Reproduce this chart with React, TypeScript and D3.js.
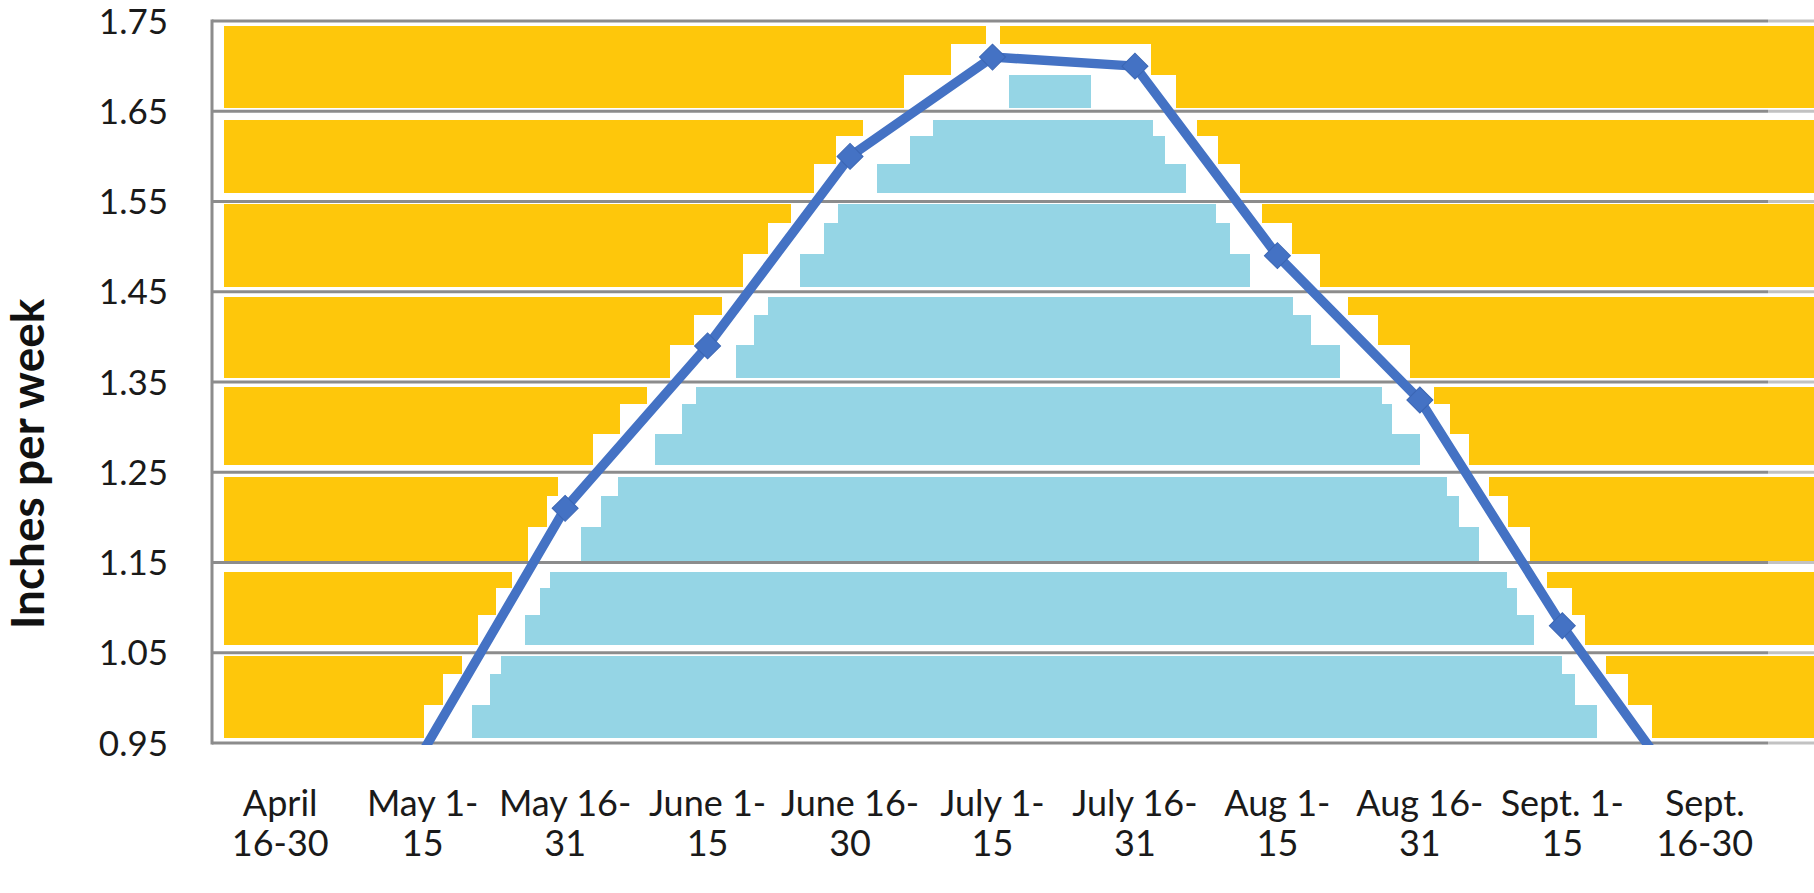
import React, { useMemo } from "react";
import * as d3 from "d3";

// Half-month periods, written on two lines under the axis
const periodTop = ["April", "May 1-", "May 16-", "June 1-", "June 16-", "July 1-", "July 16-", "Aug 1-", "Aug 16-", "Sept. 1-", "Sept."];
const periodBottom = ["16-30", "15", "31", "15", "30", "15", "31", "15", "31", "15", "16-30"];

// Water use, inches per week (null = no value for that period)
const inchesPerWeek: (number | null)[] = [null, 0.94, 1.21, 1.39, 1.6, 1.71, 1.7, 1.49, 1.33, 1.08, 0.86];

const yTickValues = [0.95, 1.05, 1.15, 1.25, 1.35, 1.45, 1.55, 1.65, 1.75];

const W = 1814;
const H = 893;

const YELLOW = "#FEC70B";
const BLUE = "#95D5E5";
const LINE = "#4472C4";
const GRID = "#8C8C8C";
const FONT = "Lato, 'Open Sans', sans-serif";

// Insets (top, bottom) of each horizontal fill strip, from the top band down
const stripInsets = [[5, 3], [9, 8], [3, 5], [5, 4], [5, 7], [5, 2], [9, 8], [3, 5]];
// Each strip is split into stepped rows
const rowSplits = [0, 0.22, 0.6, 1];

const STROKE = 9.5;
const MARK_R = 13;

export default function App() {
  const x = d3.scaleBand<number>().domain(d3.range(periodTop.length)).range([209, 1776]);
  const y = d3.scaleLinear().domain([0.95, 1.75]).range([743, 21]);
  const cx = (i: number) => (x(i) as number) + x.bandwidth() / 2;

  const pts: [number, number][] = inchesPerWeek
    .map((v, i) => (v == null ? null : ([cx(i), y(v)] as [number, number])))
    .filter((p): p is [number, number] => p !== null);

  const markers = inchesPerWeek
    .map((v, i) => ({ v, i }))
    .filter((d) => d.v != null && (d.v as number) >= y.domain()[0])
    .map((d) => [cx(d.i), y(d.v as number)] as [number, number]);

  const fills = useMemo(() => {
    const lineYAt = (px: number): number | null => {
      for (let k = 0; k < pts.length - 1; k++) {
        const [x0, y0] = pts[k];
        const [x1, y1] = pts[k + 1];
        if (px >= x0 && px <= x1) return y0 + ((px - x0) / (x1 - x0)) * (y1 - y0);
      }
      return null;
    };
    const topEnv = new Float64Array(W + 1);
    const botEnv = new Float64Array(W + 1);
    for (let px = 0; px <= W; px++) {
      const ly = lineYAt(px);
      topEnv[px] = ly == null ? Infinity : ly - STROKE / 2;
      botEnv[px] = ly == null ? Infinity : ly + STROKE / 2;
      for (const [mx, my] of markers) {
        const d = Math.abs(px - mx);
        if (d < MARK_R) {
          topEnv[px] = Math.min(topEnv[px], my - (MARK_R - d));
          botEnv[px] = Math.max(botEnv[px], my + (MARK_R - d));
        }
      }
    }
    const mvY = 6, mhY = 1, mvB = 6, mhB = 15;
    const x0 = 224, x1 = W;
    const rects: { x: number; y: number; w: number; h: number; fill: string }[] = [];
    const nb = yTickValues.length - 1;
    for (let k = 0; k < nb; k++) {
      const upper = yTickValues[nb - k];
      const lower = yTickValues[nb - k - 1];
      const top = y(upper) + stripInsets[k][0];
      const bot = y(lower) - stripInsets[k][1];
      for (let r = 0; r < rowSplits.length - 1; r++) {
        const yT = Math.round(top + (bot - top) * rowSplits[r]);
        const yB = Math.round(top + (bot - top) * rowSplits[r + 1]);
        let runStart = x0;
        let runFill = "";
        const classify = (px: number) => {
          let yellow = true;
          for (let d = -mhY; d <= mhY; d++) {
            const q = Math.min(W, Math.max(0, px + d));
            if (!(topEnv[q] > yB + mvY)) { yellow = false; break; }
          }
          if (yellow) return YELLOW;
          let blue = true;
          for (let d = -mhB; d <= mhB; d++) {
            const q = Math.min(W, Math.max(0, px + d));
            if (!(botEnv[q] < yT - mvB)) { blue = false; break; }
          }
          return blue ? BLUE : "";
        };
        for (let px = x0; px <= x1; px++) {
          const f = px < x1 ? classify(px) : "#end";
          if (f !== runFill) {
            if (runFill && runFill !== "#end" && px > runStart) {
              rects.push({ x: runStart, y: yT, w: px - runStart, h: yB - yT, fill: runFill });
            }
            runStart = px;
            runFill = f;
          }
        }
      }
    }
    return rects;
  }, []);

  const linePath = d3.line()(pts) as string;
  const diamond = d3.symbol().type(d3.symbolSquare).size((MARK_R * Math.SQRT2) ** 2)() as string;
  const plotLeft = 212;
  const gridEnd = 1768;

  return (
    <svg
      width={W}
      height={H}
      viewBox={`0 0 ${W} ${H}`}
      style={{ position: "absolute", left: 0, top: 0, background: "#fff" }}
    >
      <defs>
        <clipPath id="plotClip">
          <rect x={plotLeft} y={0} width={W - plotLeft} height={y(0.95) + 2} />
        </clipPath>
      </defs>
      <rect x={0} y={0} width={W} height={H} fill="#fff" />

      <g shapeRendering="crispEdges">
        {fills.map((r, i) => (
          <rect key={i} x={r.x} y={r.y} width={r.w} height={r.h} fill={r.fill} />
        ))}
      </g>

      {yTickValues.map((t) => (
        <g key={t}>
          <line x1={plotLeft} x2={gridEnd} y1={y(t)} y2={y(t)} stroke={GRID} strokeWidth={3} />
          <line x1={gridEnd} x2={W} y1={y(t)} y2={y(t)} stroke="#C2C2C2" strokeWidth={3} />
        </g>
      ))}
      <line x1={plotLeft} x2={plotLeft} y1={y(1.75) - 1.5} y2={y(0.95) + 1.5} stroke={GRID} strokeWidth={3} />

      <g clipPath="url(#plotClip)">
        <path d={linePath} fill="none" stroke={LINE} strokeWidth={STROKE} strokeLinejoin="round" />
        {markers.map(([mx, my], i) => (
          <path
            key={i}
            d={diamond}
            transform={`translate(${mx},${my}) rotate(45)`}
            fill={LINE}
            stroke="#3B66B3"
            strokeWidth={1}
          />
        ))}
      </g>

      {yTickValues.map((t) => (
        <text
          key={t}
          x={168}
          y={y(t) + 12.5}
          textAnchor="end"
          fontFamily={FONT}
          fontSize={35}
          fill="#1a1a1a"
        >
          {t.toFixed(2)}
        </text>
      ))}

      {periodTop.map((p, i) => (
        <text key={i} x={cx(i)} textAnchor="middle" fontFamily={FONT} fontSize={36} fill="#1a1a1a">
          <tspan x={cx(i)} y={816}>{p}</tspan>
          <tspan x={cx(i)} y={856}>{periodBottom[i]}</tspan>
        </text>
      ))}

      <text
        transform="translate(44,464) rotate(-90)"
        textAnchor="middle"
        fontFamily={FONT}
        fontWeight={700}
        fontSize={46}
        fill="#111"
      >
        Inches per week
      </text>
    </svg>
  );
}
